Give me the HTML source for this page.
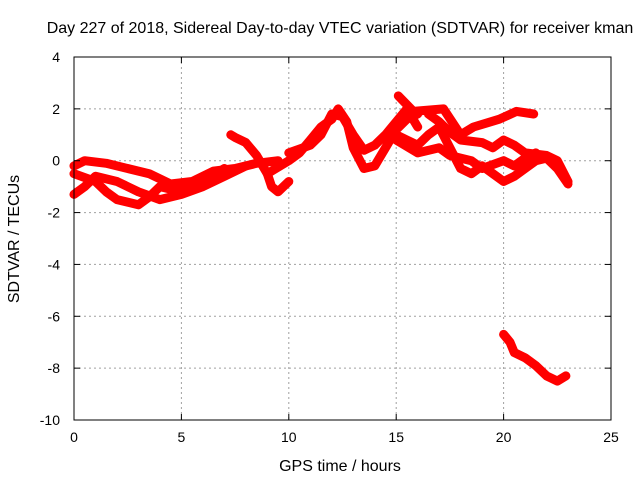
<!DOCTYPE html>
<html><head><meta charset="utf-8"><style>
body{margin:0;background:#fff;}
svg text{font-family:"Liberation Sans",sans-serif;font-size:14px;fill:#000;}
svg text.big{font-size:16px;}
</style></head><body>
<svg id="chart" width="640" height="480">
<rect width="640" height="480" fill="#fff"/>
<g id="grid"></g><g id="series"></g><g id="axes"></g>
<text class="big" x="340" y="33" text-anchor="middle">Day 227 of 2018, Sidereal Day-to-day VTEC variation (SDTVAR) for receiver kman</text>
<text class="big" x="340" y="471" text-anchor="middle">GPS time / hours</text>
<text class="big" x="0" y="0" text-anchor="middle" transform="translate(19,239) rotate(-90)">SDTVAR / TECUs</text>
</svg>
<script>
const xTicks=[0,5,10,15,20,25];
const yTicks=[4,2,0,-2,-4,-6,-8,-10];
const trackA_t=[0,0.5,1.5,2.5,3.5,4.5,5.5,6.5,7.5,8.5,9.5];
const trackA_v=[-0.2,0,-0.1,-0.3,-0.5,-0.9,-0.8,-0.4,-0.3,-0.1,0.0];
const trackB_t=[0,0.5,1,2,3,4,5,6,7,8];
const trackB_v=[-1.3,-1.0,-0.6,-0.8,-1.2,-1.5,-1.3,-1.0,-0.6,-0.2];
const trackC_t=[0,1,1.5,2,3,3.5,4,5,6,7];
const trackC_v=[-0.5,-0.8,-1.2,-1.5,-1.7,-1.4,-1.0,-1.2,-0.8,-0.3];
const trackD_t=[7.3,7.5,8,8.5,9,9.2,9.5,10];
const trackD_v=[1.0,0.9,0.7,0.2,-0.5,-1.0,-1.2,-0.8];
const trackE_t=[9,10,10.5,11,11.5,12,12.3,12.7,13,13.5,14,14.5,15,15.5,16];
const trackE_v=[-0.5,0,0.3,0.8,1.3,1.6,2.0,1.5,0.5,-0.3,-0.2,0.5,1.2,1.6,1.8];
const trackF_t=[10,11,11.5,12,12.5,13,13.5,14,14.5,15,15.5,16];
const trackF_v=[0.3,0.6,1.0,1.8,1.7,1.0,0.4,0.6,1.0,1.5,2.0,1.3];
const trackG_t=[15.1,15.8,17.2,18,18.6,19.8,20.6,21.4];
const trackG_v=[2.5,1.9,2.0,1.0,1.3,1.6,1.9,1.8];
const trackH_t=[15,15.5,16,16.5,17,17.5,18,18.5,19,19.5,20,20.5,21,21.5,22,22.5,23];
const trackH_v=[1.0,0.8,0.6,1.0,1.3,0.5,-0.3,-0.5,-0.2,-0.5,-0.8,-0.6,-0.3,0,0.1,-0.3,-0.9];
const trackI_t=[15,16,17,17.5,18,18.5,19,20,20.5,21,21.5];
const trackI_v=[0.8,0.3,0.5,0.2,0.1,0,-0.3,0,-0.2,0.1,0.3];
const trackJ_t=[16.5,17,17.5,18,19,19.5,20,20.5,21,22,22.5,23];
const trackJ_v=[1.8,1.5,1.1,0.8,0.7,0.5,0.8,0.6,0.3,0.2,0,-0.8];
const trackK_t=[20,20.3,20.5,21,21.5,22,22.5,22.9];
const trackK_v=[-6.7,-7.0,-7.4,-7.6,-7.9,-8.3,-8.5,-8.3];
const tracks=[[trackA_t,trackA_v],[trackB_t,trackB_v],[trackC_t,trackC_v],[trackD_t,trackD_v],[trackE_t,trackE_v],[trackF_t,trackF_v],[trackG_t,trackG_v],[trackH_t,trackH_v],[trackI_t,trackI_v],[trackJ_t,trackJ_v],[trackK_t,trackK_v]];
const L=74,R=611,T=57,B=420,NS="http://www.w3.org/2000/svg";
const xs=t=>L+(t-0)/25*(R-L);
const ys=v=>B-(v+10)/14*(B-T);
function mk(tag,attrs,parent){const e=document.createElementNS(NS,tag);for(const k in attrs)e.setAttribute(k,attrs[k]);parent.appendChild(e);return e;}
const grid=document.getElementById('grid'),axes=document.getElementById('axes'),ser=document.getElementById('series');
xTicks.forEach(t=>{const x=xs(t);
 if(t>0&&t<25){const g=mk('line',{x1:x,x2:x,y1:T,y2:B,stroke:'#a0a0a0','stroke-dasharray':'2,3'},grid);
 
 }
 mk('line',{x1:x,x2:x,y1:B,y2:B-6,stroke:'#000'},axes);mk('line',{x1:x,x2:x,y1:T,y2:T+6,stroke:'#000'},axes);
 const tx=mk('text',{x:x,y:B+22,'text-anchor':'middle'},axes);tx.textContent=t;
 
 });
yTicks.forEach(v=>{const y=ys(v);
 if(v<4&&v>-10){const g=mk('line',{x1:L,x2:R,y1:y,y2:y,stroke:'#a0a0a0','stroke-dasharray':'2,3'},grid);
 
 }
 mk('line',{x1:L,x2:L+6,y1:y,y2:y,stroke:'#000'},axes);mk('line',{x1:R,x2:R-6,y1:y,y2:y,stroke:'#000'},axes);
 const tx=mk('text',{x:L-14,y:y+5,'text-anchor':'end'},axes);tx.textContent=v;
 
 });
const fr=mk('rect',{x:L,y:T,width:R-L,height:B-T,fill:'none',stroke:'#000'},axes);


tracks.forEach(([ts,vs])=>{
 const d=ts.map((t,i)=>(i?'L':'M')+xs(t).toFixed(1)+','+ys(vs[i]).toFixed(1)).join(' ');
 const p=mk('path',{d:d,fill:'none',stroke:'#f00','stroke-width':9,'stroke-linejoin':'round','stroke-linecap':'round'},ser);
 
 
 ts.forEach((t,i)=>{const x=xs(t),y=ys(vs[i]);
  const m=mk('path',{d:`M${x-4},${y}h8M${x},${y-4}v8`,stroke:'#f00','stroke-width':1.5},ser);
  
  });
});
</script>
</body></html>
